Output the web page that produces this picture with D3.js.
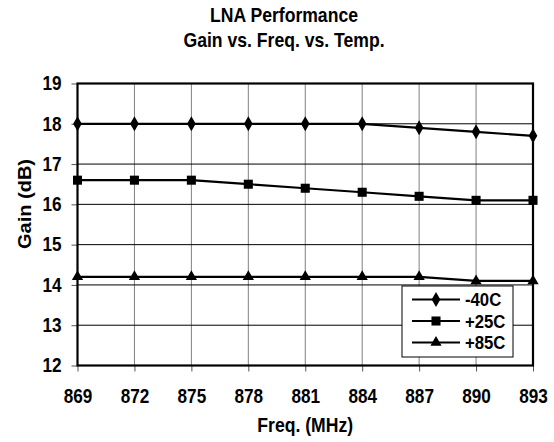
<!DOCTYPE html>
<html>
<head>
<meta charset="utf-8">
<script src="https://cdn.jsdelivr.net/npm/d3@7"></script>
<style>
  body { margin: 0; background: #fff; }
  text { font-family: "Liberation Sans", Arial, sans-serif; font-weight: bold; fill: #000; }
</style>
</head>
<body>
<script>
var freqs = [869, 872, 875, 878, 881, 884, 887, 890, 893];
var yTicks = [12, 13, 14, 15, 16, 17, 18, 19];
var seriesNames = ["-40C", "+25C", "+85C"];
var gainM40 = [18, 18, 18, 18, 18, 18, 17.9, 17.8, 17.7];
var gainP25 = [16.6, 16.6, 16.6, 16.5, 16.4, 16.3, 16.2, 16.1, 16.1];
var gainP85 = [14.2, 14.2, 14.2, 14.2, 14.2, 14.2, 14.2, 14.1, 14.1];

var width = 554, height = 442;
var margin = {top: 83.5, right: 21, bottom: 76.5, left: 77.5};
var w = width - margin.left - margin.right, h = height - margin.top - margin.bottom;
var sx = 0.88; // text in the reference is horizontally squeezed

var svg = d3.select("body").append("svg")
    .attr("width", width)
    .attr("height", height);

var g = svg.append("g")
    .attr("transform", "translate(" + margin.left + "," + margin.top + ")");

var x = d3.scalePoint().domain(freqs).range([0, w]).padding(0);
var y = d3.scaleLinear().domain([12, 19]).range([h, 0]);

function label(parent, px, py, txt, size, anchor) {
    return parent.append("g")
        .attr("transform", "translate(" + px + "," + py + ") scale(" + sx + ",1)")
        .append("text")
        .attr("text-anchor", anchor || "middle")
        .style("font-size", size + "px")
        .text(txt);
}

// grid
g.selectAll(".vgrid").data(freqs).enter().append("line")
    .attr("x1", function(d) { return x(d); }).attr("x2", function(d) { return x(d); })
    .attr("y1", 0).attr("y2", h)
    .attr("stroke", "#808080").attr("stroke-width", 1);
g.selectAll(".hgrid").data(yTicks).enter().append("line")
    .attr("x1", 0).attr("x2", w)
    .attr("y1", function(d) { return y(d); }).attr("y2", function(d) { return y(d); })
    .attr("stroke", "#000").attr("stroke-width", 1);

// axes
var xAxis = g.append("g")
    .attr("transform", "translate(0," + h + ")")
    .call(d3.axisBottom(x).tickSize(6).tickPadding(18));
var yAxis = g.append("g")
    .call(d3.axisLeft(y).tickValues(yTicks).tickSize(6).tickPadding(10).tickFormat(d3.format("d")));
[xAxis, yAxis].forEach(function(a) {
    a.select(".domain").remove();
    a.selectAll(".tick line").attr("stroke", "#555");
    a.selectAll("text").style("font-size", "19.5px").attr("fill", "#000")
        .attr("transform", "scale(" + sx + ",1)");
});
yAxis.selectAll("text").attr("x", -16 / sx);

g.append("rect")
    .attr("width", w).attr("height", h)
    .attr("fill", "none").attr("stroke", "#000").attr("stroke-width", 2.2);

// series
var series = [
    {name: seriesNames[0], values: gainM40, sym: d3.symbolDiamond, size: 65},
    {name: seriesNames[1], values: gainP25, sym: d3.symbolSquare, size: 82},
    {name: seriesNames[2], values: gainP85, sym: d3.symbolTriangle, size: 55}
];

var line = d3.line()
    .x(function(d, i) { return x(freqs[i]); })
    .y(function(d) { return y(d); });

series.forEach(function(s) {
    g.append("path")
        .attr("d", line(s.values))
        .attr("fill", "none").attr("stroke", "#000").attr("stroke-width", 2.2);
    g.selectAll(null).data(s.values).enter().append("path")
        .attr("d", d3.symbol().type(s.sym).size(s.size))
        .attr("transform", function(d, i) { return "translate(" + x(freqs[i]) + "," + y(d) + ")"; })
        .attr("fill", "#000");
});

// legend
var lg = svg.append("g").attr("transform", "translate(402,286)");
lg.append("rect").attr("width", 111).attr("height", 71)
    .attr("fill", "#fff").attr("stroke", "#000").attr("stroke-width", 1);
series.forEach(function(s, i) {
    var yy = 13.5 + i * 21.5;
    lg.append("line").attr("x1", 10).attr("x2", 58).attr("y1", yy).attr("y2", yy)
        .attr("stroke", "#000").attr("stroke-width", 2.2);
    lg.append("path").attr("d", d3.symbol().type(s.sym).size(s.size))
        .attr("transform", "translate(34," + yy + ")").attr("fill", "#000");
    label(lg, 63, yy, s.name, 19, "start").attr("dy", "0.36em");
});

// titles
label(svg, 284, 21.5, "LNA Performance", 20);
label(svg, 284, 46.5, "Gain vs. Freq. vs. Temp.", 20);
label(svg, margin.left + w / 2, 431.5, "Freq. (MHz)", 20);
svg.append("text").attr("transform", "translate(31,204) scale(" + sx + ",1) rotate(-90)")
    .attr("text-anchor", "middle")
    .style("font-size", "20px").text("Gain (dB)");
</script>
</body>
</html>
